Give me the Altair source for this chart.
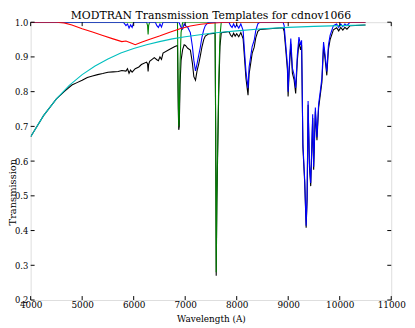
import altair as alt
import pandas as pd

title_text = "MODTRAN Transmission Templates for cdnov1066"
x_title = "Wavelength (A)"
y_title = "Transmission"
x_ticks = [4000, 5000, 6000, 7000, 8000, 9000, 10000, 11000]
y_ticks = [0.2, 0.3, 0.4, 0.5, 0.6, 0.7, 0.8, 0.9, 1.0]

# Rayleigh (cyan)
cyan_wl = [4000, 4250, 4500, 4750, 5000, 5250, 5500, 5750, 6000, 6250, 6500,
           6750, 7000, 7250, 7500, 7750, 8000, 8500, 9000, 9500, 10000, 10500]
cyan_t = [0.670, 0.731, 0.779, 0.818, 0.849, 0.874, 0.894, 0.911, 0.924, 0.935, 0.944,
          0.952, 0.958, 0.963, 0.968, 0.972, 0.975, 0.981, 0.985, 0.988, 0.990, 0.992]

# Ozone (red)
red_wl = [4000, 4500, 4650, 4800, 5000, 5200, 5400, 5600, 5770, 5850, 5950, 6030,
          6150, 6300, 6500, 6700, 6900, 7100, 7300, 7500, 7700, 8000, 9000, 10000, 10500]
red_t = [1.0, 1.0, 0.998, 0.992, 0.981, 0.972, 0.962, 0.952, 0.944, 0.946, 0.940, 0.935,
         0.942, 0.950, 0.960, 0.971, 0.981, 0.989, 0.994, 0.997, 0.999, 1.0, 1.0, 1.0, 1.0]

# Oxygen (green)
green_wl = [4000, 6250, 6270, 6280, 6290, 6310, 6850, 6865, 6875, 6885, 6900, 6920, 6950,
            7580, 7592, 7602, 7615, 7628, 7650, 7675, 7700, 10500]
green_t = [1.0, 1.0, 0.99, 0.965, 0.99, 1.0, 1.0, 0.80, 0.70, 0.72, 0.88, 0.97, 1.0,
           1.0, 0.70, 0.28, 0.50, 0.62, 0.82, 0.96, 1.0, 1.0]

# Water (blue)
blue_wl = [4000, 5800, 5850, 5880, 5910, 5940, 5970, 6000, 6420, 6450, 6480, 6510, 6540, 6570,
           6880, 6920, 6950, 6980, 7005, 7050, 7100, 7140, 7168, 7200, 7230, 7263, 7290, 7327,
           7360, 7390, 7450, 7850, 7880, 7910, 7940, 7970, 8000, 8040, 8080, 8125, 8150, 8180,
           8220, 8240, 8270, 8300, 8340, 8370, 8410, 8450, 8900, 8921, 8953, 8985, 8998, 9017,
           9050, 9081, 9113, 9145, 9177, 9208, 9240, 9260, 9285, 9320, 9348, 9367, 9386, 9412,
           9437, 9475, 9494, 9527, 9558, 9590, 9622, 9654, 9686, 9717, 9749, 9781, 9813, 9877,
           9940, 9980, 10020, 10060, 10100, 10140, 10200, 10500]
blue_t = [1.0, 1.0, 0.99, 0.995, 0.983, 0.992, 0.985, 1.0, 1.0, 0.99, 0.985, 0.995, 0.986, 1.0,
          1.0, 0.985, 0.98, 0.995, 0.99, 0.985, 0.97, 0.93, 0.89, 0.86, 0.88, 0.905, 0.925, 0.958,
          0.978, 0.99, 1.0, 1.0, 0.99, 0.985, 0.995, 0.985, 0.992, 0.983, 0.995, 0.976, 0.92, 0.858,
          0.81, 0.87, 0.90, 0.93, 0.948, 0.976, 0.995, 1.0, 1.0, 0.99, 0.934, 0.877, 0.80, 0.868,
          0.953, 0.868, 0.849, 0.811, 0.905, 0.957, 0.934, 0.948, 0.65, 0.546, 0.414, 0.50, 0.773, 0.593,
          0.537, 0.735, 0.584, 0.754, 0.669, 0.764, 0.80, 0.839, 0.943, 0.905, 0.858, 0.934, 0.962, 0.99,
          0.995, 0.985, 0.995, 0.987, 0.995, 0.99, 1.0, 1.0]

# Total (black)
black_wl = [4000, 4250, 4500, 4650, 4800, 4900, 5000, 5100, 5200, 5300, 5400, 5500, 5600, 5700,
            5770, 5850, 5880, 5910, 5940, 5970, 6030, 6100, 6150, 6250, 6270, 6280, 6290, 6310,
            6400, 6450, 6480, 6510, 6540, 6570, 6700, 6800, 6850, 6865, 6875, 6885, 6900, 6920,
            6950, 6980, 7005, 7050, 7100, 7140, 7168, 7200, 7230, 7263, 7290, 7327, 7360, 7390,
            7450, 7500, 7580, 7592, 7602, 7615, 7628, 7650, 7675, 7700, 7800, 7850, 7880, 7910,
            7940, 7970, 8000, 8040, 8080, 8125, 8150, 8180, 8220, 8240, 8270, 8300, 8340, 8370,
            8410, 8450, 8700, 8900, 8921, 8953, 8985, 8998, 9017, 9050, 9081, 9113, 9145, 9177,
            9208, 9240, 9260, 9285, 9320, 9348, 9367, 9386, 9412, 9437, 9475, 9494, 9527, 9558,
            9590, 9622, 9654, 9686, 9717, 9749, 9781, 9813, 9877, 9940, 9980, 10020, 10060, 10100,
            10140, 10200, 10500]
black_t = [0.670, 0.731, 0.779, 0.800, 0.819, 0.826, 0.833, 0.841, 0.845, 0.849, 0.852, 0.856, 0.857, 0.858,
           0.861, 0.859, 0.866, 0.853, 0.862, 0.856, 0.866, 0.871, 0.878, 0.885, 0.880, 0.858, 0.878, 0.887,
           0.898, 0.892, 0.889, 0.900, 0.893, 0.911, 0.922, 0.930, 0.933, 0.75, 0.69, 0.70, 0.82, 0.89,
           0.921, 0.935, 0.933, 0.925, 0.920, 0.882, 0.843, 0.833, 0.860, 0.880, 0.900, 0.930, 0.950, 0.960,
           0.966, 0.967, 0.968, 0.68, 0.27, 0.48, 0.60, 0.79, 0.93, 0.970, 0.972, 0.973, 0.963, 0.958,
           0.968, 0.960, 0.967, 0.958, 0.970, 0.952, 0.900, 0.838, 0.790, 0.850, 0.880, 0.910, 0.928, 0.955,
           0.974, 0.979, 0.982, 0.984, 0.974, 0.920, 0.862, 0.786, 0.854, 0.938, 0.853, 0.835, 0.795, 0.890,
           0.942, 0.920, 0.934, 0.640, 0.538, 0.408, 0.490, 0.762, 0.584, 0.528, 0.724, 0.575, 0.743, 0.660,
           0.753, 0.790, 0.827, 0.930, 0.893, 0.847, 0.922, 0.950, 0.978, 0.984, 0.975, 0.985, 0.977, 0.985,
           0.980, 0.990, 0.992]

FONT = "DejaVu Serif"
W, H = 366, 282
xs = alt.Scale(domain=[4000, 11000], nice=False, zero=False)
ys = alt.Scale(domain=[0.2, 1.0], nice=False, zero=False)

x_axis = alt.Axis(values=x_ticks, format="d", labelFont=FONT, labelFontSize=9,
                  labelColor="black", labelPadding=1, tickSize=0, ticks=False,
                  domain=False, grid=False, labelOverlap=False, labelFlush=False,
                  titleFont=FONT, titleFontSize=9, titleFontWeight="normal",
                  titleColor="black", titlePadding=5)
y_axis = alt.Axis(values=y_ticks, format=".1f", labelFont=FONT, labelFontSize=8.5,
                  labelColor="black", labelPadding=3, tickSize=0, ticks=False,
                  domain=False, grid=False, labelOverlap=False, labelFlush=False,
                  titleFont=FONT, titleFontSize=10, titleFontWeight="normal",
                  titleColor="black", titleX=-13.5, titleY=172, titleAlign="center")


def xenc(field):
    return alt.X(field, type="quantitative", scale=xs, axis=x_axis, title=x_title)


def yenc(field):
    return alt.Y(field, type="quantitative", scale=ys, axis=y_axis, title=y_title)


def line(wl, t, color):
    df = pd.DataFrame({"wl": wl, "t": t})
    return alt.Chart(df).mark_line(color=color, strokeWidth=1.1, clip=True).encode(
        x=xenc("wl"), y=yenc("t"))


xt = pd.DataFrame({"v": x_ticks})
yt = pd.DataFrame({"v": y_ticks})
tick_style = dict(color="black", strokeWidth=1)
bottom_ticks = alt.Chart(xt).mark_rule(**tick_style).encode(
    x=xenc("v"), y=alt.value(H), y2=alt.value(H - 4))
top_ticks = alt.Chart(xt).mark_rule(**tick_style).encode(
    x=xenc("v"), y=alt.value(0), y2=alt.value(4))
left_ticks = alt.Chart(yt).mark_rule(**tick_style).encode(
    y=yenc("v"), x=alt.value(0), x2=alt.value(4))
right_ticks = alt.Chart(yt).mark_rule(**tick_style).encode(
    y=yenc("v"), x=alt.value(W), x2=alt.value(W - 4))

chart = alt.layer(
    line(black_wl, black_t, "#000000"),
    line(green_wl, green_t, "#008000"),
    line(blue_wl, blue_t, "#0000ff"),
    line(red_wl, red_t, "#ff0000"),
    line(cyan_wl, cyan_t, "#00bfbf"),
    bottom_ticks, top_ticks, left_ticks, right_ticks,
).properties(
    width=W, height=H,
    title=alt.TitleParams(title_text, font=FONT, fontSize=11, fontWeight="normal",
                          color="black", offset=1, dy=3.5, anchor="middle"),
    autosize=alt.AutoSizeParams(type="none"),
    padding={"left": 23, "top": 12, "right": 16, "bottom": 26},
).configure_view(stroke="black", strokeWidth=1.2).configure(background="white")

chart.save("out.html", embed_options={"renderer": "svg", "actions": False})
